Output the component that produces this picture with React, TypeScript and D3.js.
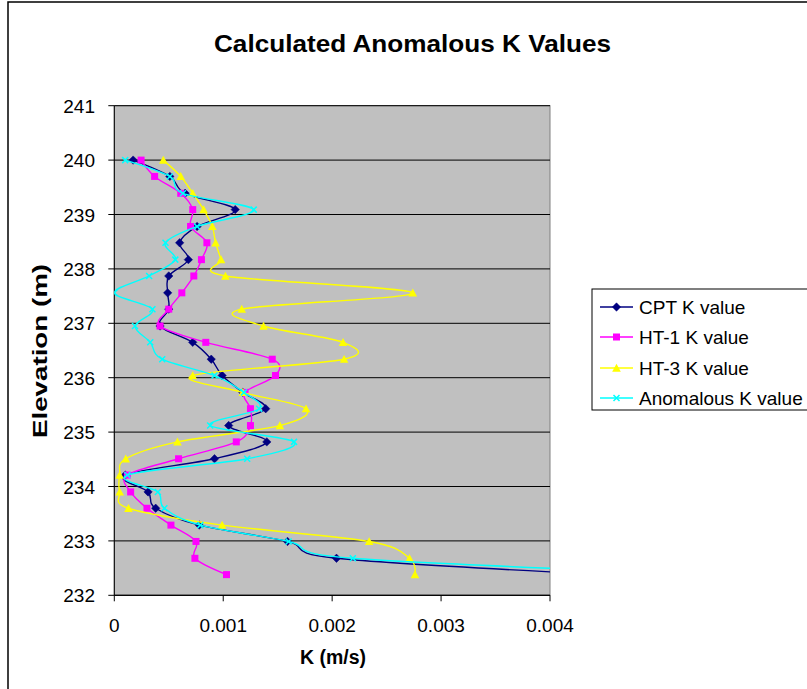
import React from "react";
import * as d3 from "d3";

const elevations = [240.0, 239.7, 239.39, 239.09, 238.78, 238.48, 238.17, 237.87, 237.56, 237.26, 236.95, 236.65, 236.34, 236.04, 235.73, 235.43, 235.12, 234.82, 234.51, 234.21, 233.9, 233.6, 233.29, 232.99, 232.68, 232.38];

const cptK = [0.000173, 0.00051, 0.00065, 0.00111, 0.00076, 0.0006, 0.00068, 0.0005, 0.00049, 0.0005, 0.00042, 0.00072, 0.00089, 0.00099, 0.00118, 0.00139, 0.00105, 0.0014, 0.00092, 0.0001, 0.00031, 0.00038, 0.00078, 0.00159, 0.00204, 0.0045];
const ht1K = [0.000246, 0.00037, 0.00061, 0.00072, 0.0007, 0.00085, 0.0008, 0.00073, 0.00062, 0.0005, 0.00042, 0.00084, 0.00145, 0.00148, 0.0012, 0.00125, 0.00125, 0.00112, 0.00059, 0.00012, 0.00015, 0.0003, 0.00052, 0.00075, 0.00074, 0.00103];
const ht3K = [0.00045, 0.00061, 0.00072, 0.00082, 0.0009, 0.00093, 0.00098, 0.00102, 0.00274, 0.00117, 0.00137, 0.0021, 0.00211, 0.00072, 0.00118, 0.00176, 0.00152, 0.00058, 0.000105, 0.00005, 0.00005, 0.00013, 0.00099, 0.00234, 0.00271, 0.00276];
const anomK = [0.0001, 0.00051, 0.00063, 0.00128, 0.00076, 0.00047, 0.00056, 0.00032, 0.0, 0.00035, 0.00019, 0.00033, 0.00044, 0.00092, 0.00119, 0.00133, 0.00088, 0.00165, 0.00122, 0.00012, 0.0004, 0.00046, 0.00079, 0.0016, 0.00219, 0.0055];

const seriesNames = ["CPT K value", "HT-1 K value", "HT-3 K value", "Anomalous K value"];
const xTicks = [0, 0.001, 0.002, 0.003, 0.004];
const xTickLabels = ["0", "0.001", "0.002", "0.003", "0.004"];
const yTicks = [232, 233, 234, 235, 236, 237, 238, 239, 240, 241];

const FONT = "'Liberation Sans', Arial, sans-serif";

const X0 = 114.3, X1 = 550, Y0 = 105.7, Y1 = 595.3;

function Marker({ type, x, y, color }: { type: string; x: number; y: number; color: string }) {
  if (type === "diamond") {
    const h = 4.2;
    return <path d={`M${x},${y - h}L${x + h},${y}L${x},${y + h}L${x - h},${y}Z`} fill={color} stroke={color} strokeWidth={0.5} />;
  }
  if (type === "square") {
    const h = 3.5;
    return <rect x={x - h} y={y - h} width={2 * h} height={2 * h} fill={color} />;
  }
  if (type === "triangle") {
    const h = 4.3;
    return <path d={`M${x},${y - h}L${x + h},${y + h * 0.85}L${x - h},${y + h * 0.85}Z`} fill={color} />;
  }
  const h = 3;
  return <path d={`M${x - h},${y - h}L${x + h},${y + h}M${x - h},${y + h}L${x + h},${y - h}`} stroke={color} strokeWidth={1.5} fill="none" />;
}

export default function App() {
  const x = d3.scaleLinear().domain([0, 0.004]).range([X0, X1]);
  const y = d3.scaleLinear().domain([232, 241]).range([Y1, Y0]);

  const series = [
    { name: seriesNames[0], values: cptK, color: "#000080", marker: "diamond" },
    { name: seriesNames[1], values: ht1K, color: "#FF00FF", marker: "square" },
    { name: seriesNames[2], values: ht3K, color: "#FFFF00", marker: "triangle" },
    { name: seriesNames[3], values: anomK, color: "#00FFFF", marker: "x" },
  ];

  const line = d3
    .line<[number, number]>()
    .x((d) => x(d[0]))
    .y((d) => y(d[1]))
    .curve(d3.curveCardinal.tension(0));

  const legendY = [307, 337, 368, 398];

  return (
    <svg width={807} height={689} style={{ position: "absolute", left: 0, top: 0 }}>
      <rect x={0} y={0} width={807} height={689} fill="#fff" />
      <rect x={8} y={2} width={900} height={800} fill="none" stroke="#000" strokeWidth={1.5} />
      <defs>
        <clipPath id="plotclip">
          <rect x={X0} y={Y0} width={X1 - X0} height={Y1 - Y0} />
        </clipPath>
      </defs>
      <text x={412.5} y={52} textAnchor="middle" fontFamily={FONT} fontWeight="bold" fontSize={24} textLength={397} lengthAdjust="spacingAndGlyphs">
        Calculated Anomalous K Values
      </text>
      <rect x={X0} y={Y0} width={X1 - X0} height={Y1 - Y0} fill="#C0C0C0" stroke="#808080" strokeWidth={1} />
      {yTicks.map((t) => (
        <line key={"g" + t} x1={X0} x2={X1} y1={y(t)} y2={y(t)} stroke="#000" strokeWidth={1} />
      ))}
      <line x1={X0} x2={X0} y1={Y0} y2={Y1} stroke="#000" strokeWidth={1} />
      <line x1={X0} x2={X1} y1={Y1} y2={Y1} stroke="#000" strokeWidth={1} />
      {yTicks.map((t) => (
        <g key={"yt" + t}>
          <line x1={X0 - 6} x2={X0} y1={y(t)} y2={y(t)} stroke="#000" />
          <text x={95} y={y(t) + 7} textAnchor="end" fontFamily={FONT} fontSize={19}>
            {t}
          </text>
        </g>
      ))}
      {xTicks.map((t, i) => (
        <g key={"xt" + t}>
          <line x1={x(t)} x2={x(t)} y1={Y1} y2={Y1 + 6} stroke="#000" />
          <text x={x(t)} y={632} textAnchor="middle" fontFamily={FONT} fontSize={19}>
            {xTickLabels[i]}
          </text>
        </g>
      ))}
      <text x={333} y={664} textAnchor="middle" fontFamily={FONT} fontWeight="bold" fontSize={19.5}>
        K (m/s)
      </text>
      <text
        transform={`translate(47,351) rotate(-90)`}
        textAnchor="middle"
        fontFamily={FONT}
        fontWeight="bold"
        fontSize={20}
        textLength={174}
        lengthAdjust="spacingAndGlyphs"
      >
        Elevation (m)
      </text>
      <g clipPath="url(#plotclip)">
        {series.map((s) => {
          const pts: [number, number][] = s.values.map((v, i) => [v, elevations[i]]);
          return (
            <g key={s.name}>
              <path d={line(pts) || ""} fill="none" stroke={s.color} strokeWidth={1.4} />
              {pts.map((p, i) => (
                <Marker key={i} type={s.marker} x={x(p[0])} y={y(p[1])} color={s.color} />
              ))}
            </g>
          );
        })}
      </g>
      <rect x={592} y={289} width={300} height={121} fill="#fff" stroke="#000" strokeWidth={1} />
      {series.map((s, i) => (
        <g key={"lg" + s.name}>
          <line x1={600} x2={633} y1={legendY[i]} y2={legendY[i]} stroke={s.color} strokeWidth={1.5} />
          <Marker type={s.marker} x={616.5} y={legendY[i]} color={s.color} />
          <text x={639} y={legendY[i] + 6.5} fontFamily={FONT} fontSize={19}>
            {s.name}
          </text>
        </g>
      ))}
    </svg>
  );
}
